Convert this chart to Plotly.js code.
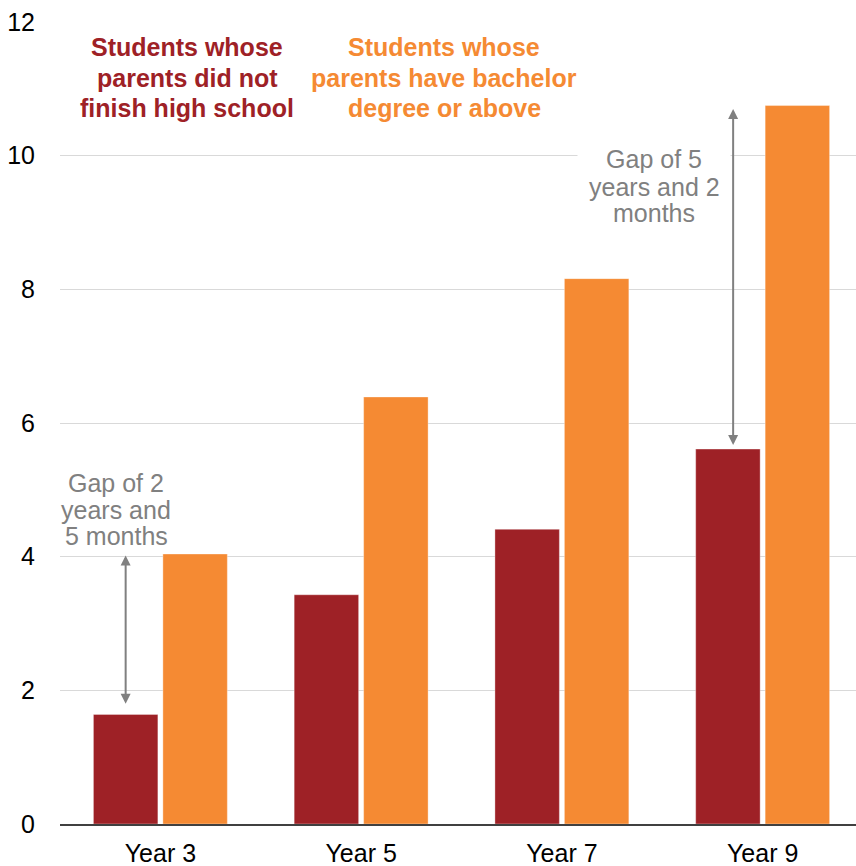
<!DOCTYPE html>
<html>
<head>
<meta charset="utf-8">
<script src="https://cdn.plot.ly/plotly-3.0.1.min.js"></script>
<style>html,body{margin:0;padding:0;background:#fff;}#chart{width:856px;height:866px;}</style>
</head>
<body>
<div id="chart"></div>
<script>
var categories = ["Year 3", "Year 5", "Year 7", "Year 9"];
var notFinishedHS = [1.64, 3.43, 4.41, 5.61];
var bachelorPlus = [4.04, 6.39, 8.16, 10.75];
var yTicks = [0, 2, 4, 6, 8, 10, 12];
var redLabelLines = ["Students whose", "parents did not", "finish high school"];
var orangeLabelLines = ["Students whose", "parents have bachelor", "degree or above"];
var gap3Lines = ["Gap of 2", "years and", "5 months"];
var gap9Lines = ["Gap of 5", "years and 2", "months"];

var RED = "#9E2126", ORANGE = "#F58A33", GREY = "#808080";
var FONT = "Arial, 'Liberation Sans', sans-serif";

// plot area in pixels: x 60..856, y 22..824
var L = 60, R = 856, T = 22, B = 824;
function px(x) { return (x - L) / (R - L); }
function py(y) { return (B - y) / (B - T); }

var traces = [
  {type: "bar", x: categories, y: notFinishedHS, name: redLabelLines.join(" "),
   marker: {color: RED, line: {color: "rgba(255,255,255,0.35)", width: 1}}, hoverinfo: "none"},
  {type: "bar", x: categories, y: bachelorPlus, name: orangeLabelLines.join(" "),
   marker: {color: ORANGE, line: {color: "rgba(255,255,255,0.35)", width: 1}}, hoverinfo: "none"}
];

var annotations = [];
function addLines(lines, cx, cy0, step, size, color, bold, first) {
  lines.forEach(function (t, i) {
    var a = {xref: "paper", yref: "paper", x: px(cx), y: py(cy0 + i * step),
      text: bold ? "<b>" + t + "</b>" : t, showarrow: false, xanchor: "center", yanchor: "middle",
      font: {family: FONT, size: size, color: color}, align: "center"};
    if (i === 0 && first) { for (var k in first) a[k] = first[k]; }
    annotations.push(a);
  });
}
addLines(redLabelLines, 187, 47.5, 30, 25, RED, true);
addLines(orangeLabelLines, 444, 47.5, 30, 25, ORANGE, true);
addLines(gap3Lines, 116, 483, 26.5, 25, GREY, false);
addLines(gap9Lines, 654, 159.5, 27, 25, GREY, false, {bgcolor: "#fff", width: 150});

// Gap arrows (double-headed) from the red bar top to the orange bar top
annotations.push(
  {xref: "x", yref: "y", axref: "x", ayref: "y", x: -0.173, y: notFinishedHS[0] + 0.16,
   ax: -0.173, ay: bachelorPlus[0], text: "", showarrow: true, arrowside: "end+start",
   arrowhead: 2, startarrowhead: 2, arrowsize: 1, startarrowsize: 1, arrowwidth: 2, arrowcolor: GREY},
  {xref: "x", yref: "y", axref: "x", ayref: "y", x: 3 - 0.147, y: notFinishedHS[3] + 0.06,
   ax: 3 - 0.147, ay: bachelorPlus[3] - 0.03, text: "", showarrow: true, arrowside: "end+start",
   arrowhead: 2, startarrowhead: 2, arrowsize: 1, startarrowsize: 1, arrowwidth: 2, arrowcolor: GREY}
);

var layout = {
  width: 856, height: 866,
  margin: {l: 60, r: 0, t: 22, b: 42},
  paper_bgcolor: "#fff", plot_bgcolor: "#fff",
  showlegend: false,
  barmode: "group", bargap: 0.308, bargroupgap: 0.072,
  font: {family: FONT, size: 25, color: "#000"},
  xaxis: {type: "category", range: [-0.5, 3.465], showline: true, linecolor: "#404040", linewidth: 1.5,
          ticks: "outside", ticklen: 6, tickcolor: "rgba(0,0,0,0)", showgrid: false, zeroline: false,
          tickfont: {family: FONT, size: 25, color: "#000"}, fixedrange: true},
  yaxis: {range: [0, 12], tickvals: yTicks, ticktext: yTicks.map(String), showgrid: true,
          gridcolor: "#D9D9D9", gridwidth: 1, zeroline: false, showline: false,
          ticks: "outside", ticklen: 19, tickcolor: "rgba(0,0,0,0)",
          tickfont: {family: FONT, size: 25, color: "#000"}, fixedrange: true},
  annotations: annotations
};

Plotly.newPlot("chart", traces, layout, {displayModeBar: false, staticPlot: true});
</script>
</body>
</html>
